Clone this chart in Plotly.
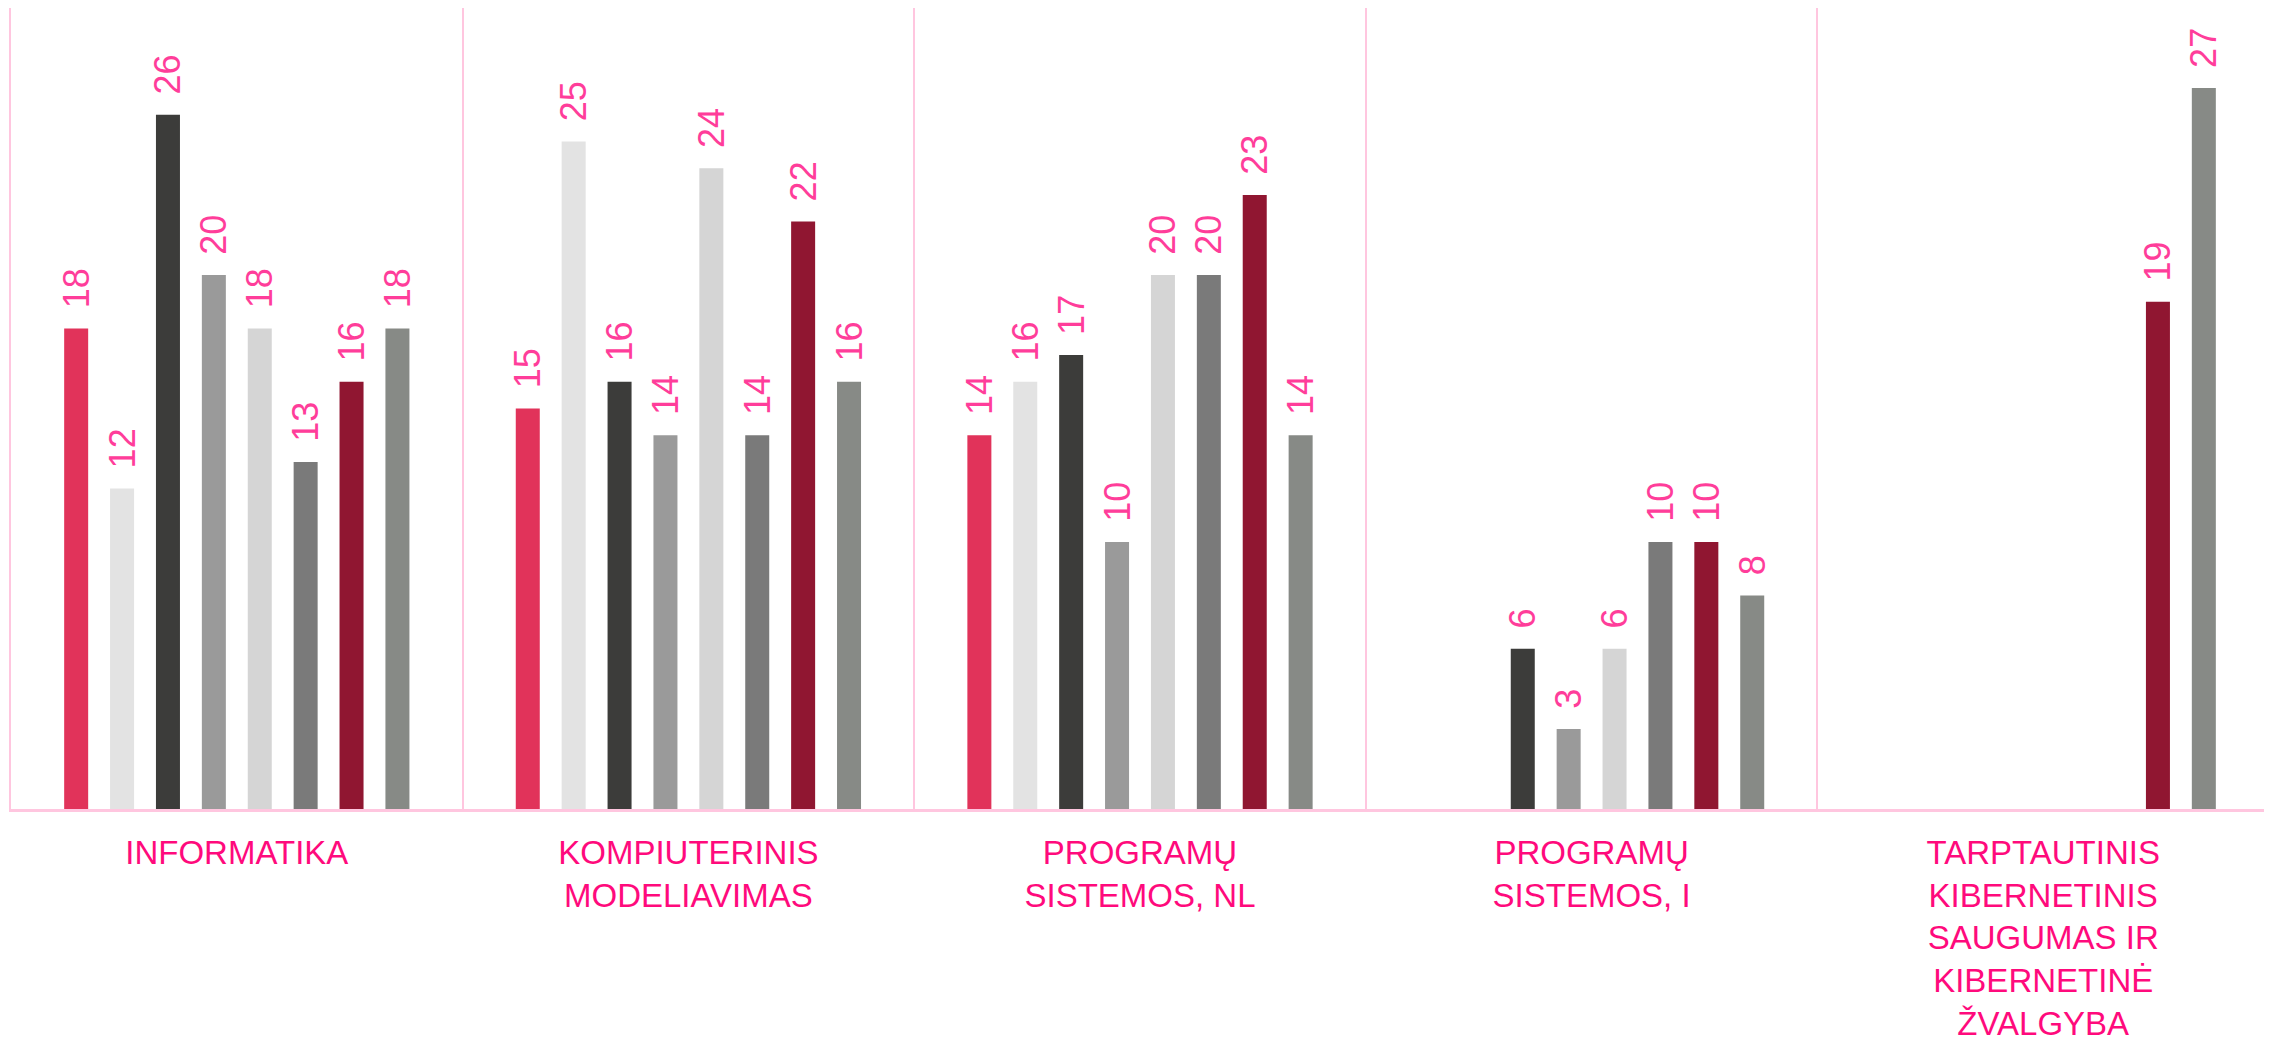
import plotly.graph_objects as go

categories = [
    "INFORMATIKA",
    "KOMPIUTERINIS<br>MODELIAVIMAS",
    "PROGRAMŲ<br>SISTEMOS, NL",
    "PROGRAMŲ<br>SISTEMOS, I",
    "TARPTAUTINIS<br>KIBERNETINIS<br>SAUGUMAS IR<br>KIBERNETINĖ<br>ŽVALGYBA",
]

series_names = ["Serija 1", "Serija 2", "Serija 3", "Serija 4",
                "Serija 5", "Serija 6", "Serija 7", "Serija 8"]

s1 = [18, 15, 14, None, None]
s2 = [12, 25, 16, None, None]
s3 = [26, 16, 17, 6, None]
s4 = [20, 14, 10, 3, None]
s5 = [18, 24, 20, 6, None]
s6 = [13, 14, 20, 10, None]
s7 = [16, 22, 23, 10, 19]
s8 = [18, 16, 14, 8, 27]

series_values = [s1, s2, s3, s4, s5, s6, s7, s8]
colors = ["#e1335a", "#e3e3e3", "#3c3c3a", "#9a9a9a",
          "#d5d5d5", "#7a7a7a", "#901631", "#878a86"]

FONT = "Liberation Sans, Arial, sans-serif"
LINE = "#ffc6df"

fig = go.Figure()
for name, vals, col in zip(series_names, series_values, colors):
    fig.add_trace(go.Bar(
        name=name,
        x=categories,
        y=vals,
        marker=dict(color=col, line=dict(width=0)),
        text=[("\u00a0\u2009" + str(v)) if v is not None else "" for v in vals],
        texttemplate="%{text}",
        textposition="outside",
        textangle=-90,
        constraintext="none",
        cliponaxis=False,
        outsidetextfont=dict(family=FONT, size=36, color="#ff3d9a"),
        hoverinfo="skip",
    ))

fig.update_layout(
    width=2264,
    height=1033,
    margin=dict(l=3, r=3, t=0, b=232, autoexpand=False),
    paper_bgcolor="white",
    plot_bgcolor="white",
    barmode="group",
    bargap=0.187,
    bargroupgap=0.477,
    showlegend=False,
    xaxis=dict(
        type="category",
        automargin=False,
        tickson="boundaries",
        showgrid=True,
        gridcolor=LINE,
        gridwidth=1.5,
        showline=True,
        linecolor=LINE,
        linewidth=3,
        ticks="",
        ticklabelstandoff=12,
        tickfont=dict(family=FONT, size=33, color="#ff0a7c"),
    ),
    yaxis=dict(
        range=[0, 30],
        automargin=False,
        showgrid=False,
        zeroline=False,
        showticklabels=False,
        ticks="",
        showline=True,
        mirror=True,
        linecolor=LINE,
        linewidth=2,
    ),
)

fig.write_html("out.html")
